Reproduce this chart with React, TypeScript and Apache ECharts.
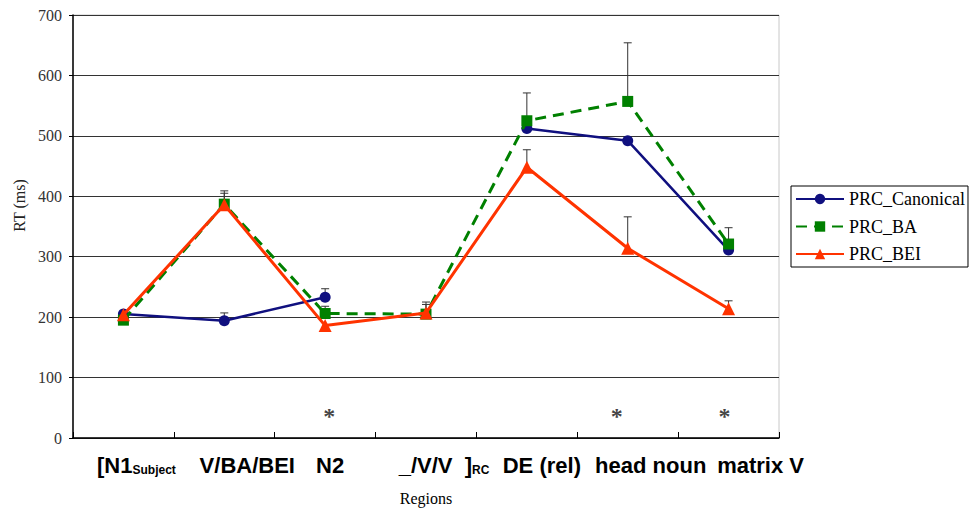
import React, { useEffect, useRef } from "react";
import * as echarts from "echarts";

// ---- data ----
const labelMain = ["[N1", "V/BA/BEI", "N2", "_/V/V  ]", "DE (rel)", "head noun", "matrix V"];
const labelSub = ["Subject", "", "", "RC", "", "", ""];
const categories = labelMain.map((m, i) => m + labelSub[i]);

const canonical: (number | null)[] = [205, 194, 233, null, 512, 492, 311];
const ba: (number | null)[] = [195, 387, 206, 205, 525, 557, 321];
const bei: (number | null)[] = [204, 386, 186, 207, 448, 314, 214];

// upper end of error bars (null = not drawn)
const canonicalErrTop: (number | null)[] = [null, 207, 247, null, null, null, null];
const baErrTop: (number | null)[] = [null, 409, 218, 225, 571, 654, 348];
const beiErrTop: (number | null)[] = [null, 405, null, 221, 477, 366, 227];

// significance markers
const sigCategories = [2, 5, 6];
const sigValue = 43;

const yTicks = [0, 100, 200, 300, 400, 500, 600, 700];

// ---- styles (not data) ----
const labelShift = [13, 23, 5, 18, 15, 23, 32];
const sigOffset = [4, -11, -4];

const COLORS = { canonical: "#10107f", ba: "#008000", bei: "#ff3300" };

function errData(means: (number | null)[], tops: (number | null)[]) {
  const out: number[][] = [];
  means.forEach((m, i) => {
    const t = tops[i];
    if (m != null && t != null) out.push([i, m, t]);
  });
  return out;
}

function renderErr(params: any, api: any) {
  const x = api.value(0);
  const mean = api.value(1);
  const top = api.value(2);
  const p1 = api.coord([x, mean]);
  const p2 = api.coord([x, top]);
  const st = { stroke: "#333", lineWidth: 1 };
  return {
    type: "group",
    children: [
      { type: "line", shape: { x1: p1[0], y1: p1[1], x2: p2[0], y2: p2[1] }, style: st },
      { type: "line", shape: { x1: p2[0] - 4, y1: p2[1], x2: p2[0] + 4, y2: p2[1] }, style: st },
    ],
  };
}

export default function App() {
  const ref = useRef<HTMLDivElement>(null);
  useEffect(() => {
    if (!ref.current) return;
    const chart = echarts.init(ref.current, undefined, { renderer: "svg" });
    const rich: any = {
      sub: {
        fontSize: 12,
        fontWeight: "bold",
        fontFamily: "Liberation Sans",
        color: "#000",
        lineHeight: 14,
        verticalAlign: "bottom",
      },
    };
    labelMain.forEach((_, i) => {
      rich["m" + i] = {
        fontSize: 22,
        fontWeight: "bold",
        fontFamily: "Liberation Sans",
        color: "#000",
        lineHeight: 25,
        verticalAlign: "bottom",
        padding: [0, 0, 0, 2 * labelShift[i]],
      };
    });
    const serif = "Liberation Serif";
    chart.setOption({
      animation: false,
      grid: {
        left: 73,
        right: 191,
        top: 15,
        bottom: 73,
        show: true,
        borderColor: "#c8c8c8",
        borderWidth: 1,
        backgroundColor: "transparent",
      },
      legend: {
        data: ["PRC_Canonical", "PRC_BA", "PRC_BEI"],
        orient: "vertical",
        left: 791,
        top: 186,
        padding: [3, 3, 3, 4],
        itemWidth: 48,
        itemHeight: 13,
        itemGap: 7.5,
        borderColor: "#000",
        borderWidth: 1,
        textStyle: { fontFamily: serif, fontSize: 18, lineHeight: 20, color: "#000" },
      },
      xAxis: {
        type: "category",
        data: categories,
        boundaryGap: true,
        name: "Regions",
        nameLocation: "middle",
        nameGap: 52,
        nameTextStyle: { fontFamily: serif, fontSize: 16, color: "#000" },
        axisLine: { lineStyle: { color: "#000", width: 1.5 } },
        axisTick: { show: true, inside: true, length: 6, lineStyle: { color: "#000" } },
        axisLabel: {
          interval: 0,
          margin: 13,
          formatter: (_v: string, idx: number) =>
            `{m${idx}|${labelMain[idx]}}` + (labelSub[idx] ? `{sub|${labelSub[idx]}}` : ""),
          rich,
        },
        splitLine: { show: false },
      },
      yAxis: {
        type: "value",
        min: yTicks[0],
        max: yTicks[yTicks.length - 1],
        interval: 100,
        name: "RT (ms)",
        nameLocation: "middle",
        nameRotate: 90,
        nameGap: 46,
        nameTextStyle: { fontFamily: serif, fontSize: 16, color: "#222", padding: [0, 0, 0, 42] },
        axisLine: { show: true, lineStyle: { color: "#000", width: 1.5 } },
        axisTick: { show: true, length: 4, lineStyle: { color: "#000" } },
        axisLabel: { fontFamily: serif, fontSize: 16, color: "#333", margin: 11 },
        splitLine: { show: true, lineStyle: { color: "#333", width: 1 } },
      },
      series: [
        {
          name: "errCanonical",
          type: "custom",
          renderItem: renderErr,
          data: errData(canonical, canonicalErrTop),
          z: 1,
          silent: true,
        },
        {
          name: "errBA",
          type: "custom",
          renderItem: renderErr,
          data: errData(ba, baErrTop),
          z: 1,
          silent: true,
        },
        {
          name: "errBEI",
          type: "custom",
          renderItem: renderErr,
          data: errData(bei, beiErrTop),
          z: 1,
          silent: true,
        },
        {
          name: "PRC_Canonical",
          type: "line",
          data: canonical.map((v) => (v == null ? "-" : v)),
          connectNulls: false,
          symbol: "circle",
          symbolSize: 11,
          color: COLORS.canonical,
          lineStyle: { color: COLORS.canonical, width: 2.5 },
          itemStyle: { color: COLORS.canonical },
          z: 3,
        },
        {
          name: "PRC_BA",
          type: "line",
          data: ba,
          symbol: "rect",
          symbolSize: 11,
          color: COLORS.ba,
          lineStyle: { color: COLORS.ba, width: 3, type: [11, 7] },
          itemStyle: { color: COLORS.ba },
          z: 4,
        },
        {
          name: "PRC_BEI",
          type: "line",
          data: bei,
          symbol: "triangle",
          symbolSize: 13,
          color: COLORS.bei,
          lineStyle: { color: COLORS.bei, width: 3 },
          itemStyle: { color: COLORS.bei },
          z: 5,
        },
        {
          name: "sig",
          type: "scatter",
          symbolSize: 0,
          silent: true,
          data: sigCategories.map((c, i) => ({
            value: [c, sigValue],
            label: { offset: [sigOffset[i], 4] },
          })),
          label: {
            show: true,
            position: "inside",
            formatter: "*",
            fontFamily: serif,
            fontSize: 24,
            fontWeight: "bold",
            color: "#111",
          },
          z: 6,
        },
      ],
    });
    return () => chart.dispose();
  }, []);
  return (
    <div
      ref={ref}
      style={{ position: "fixed", left: 0, top: 0, width: 970, height: 511, background: "#fff" }}
    />
  );
}
